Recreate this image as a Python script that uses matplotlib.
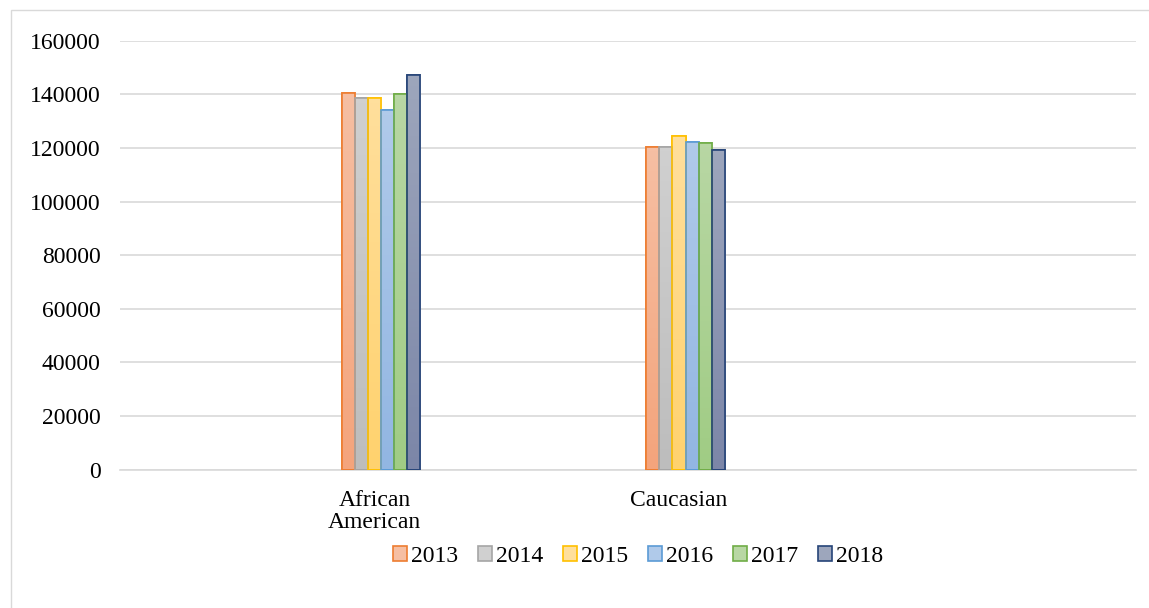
import matplotlib
matplotlib.use("Agg")
import matplotlib.pyplot as plt
import matplotlib.transforms as mtransforms
import numpy as np
from matplotlib.patches import Rectangle
from matplotlib.colors import to_rgb

categories = ["African\nAmerican", "Caucasian"]
years = ["2013", "2014", "2015", "2016", "2017", "2018"]
values_2013 = [140300, 120200]
values_2014 = [138500, 120400]
values_2015 = [138600, 124400]
values_2016 = [134100, 122300]
values_2017 = [140100, 121900]
values_2018 = [147200, 119100]
series = [values_2013, values_2014, values_2015, values_2016, values_2017, values_2018]

edge_colors = ["#ED7D31", "#A5A5A5", "#FFC000", "#5B9BD5", "#70AD47", "#264478"]
fill_top = ["#F6BFA3", "#D0D0D0", "#FFDF9C", "#B0CAEA", "#B8D7A4", "#9DA6BC"]
fill_bot = ["#F4A47C", "#BDBDBD", "#FFD26E", "#92B6E2", "#A0CC84", "#7C86A8"]

plt.rcParams['font.family'] = ['Liberation Serif', 'DejaVu Serif']
FS = 17
fig = plt.figure(figsize=(11.49, 6.08), dpi=100)
fig.patches.append(Rectangle((10.5/1149, -0.1), 1.2, 1.1 - 10/608, transform=fig.transFigure,
                             fill=False, edgecolor="#D9D9D9", linewidth=1.0))

ax = fig.add_axes([120/1149, 1 - 469.5/608, 1016/1149, (469.5 - 40.7)/608])
x = np.arange(len(categories))
n = len(series)
w = 0.0427
for i, vals in enumerate(series):
    pos = x + (i - (n - 1) / 2) * w
    bars = ax.bar(pos, vals, width=w, color=fill_bot[i], edgecolor=edge_colors[i],
                  linewidth=1.2, label=years[i], zorder=3)
    grad = np.linspace(0, 1, 64)[:, None]
    c1 = np.array(to_rgb(fill_bot[i])); c2 = np.array(to_rgb(fill_top[i]))
    img = c1[None, None, :] * (1 - grad[..., None]) + c2[None, None, :] * grad[..., None]
    for b in bars:
        bx, by = b.get_x(), b.get_y()
        bw, bh = b.get_width(), b.get_height()
        im = ax.imshow(img, extent=(bx, bx + bw, by, by + bh), origin="lower",
                       aspect="auto", zorder=3.5)
        im.set_clip_path(b)
        ax.add_patch(Rectangle((bx, by), bw, bh, fill=False, edgecolor=edge_colors[i],
                               linewidth=1.2, zorder=4))

left_units = (381 - 120) / 304.5
right_units = (1136 - 685.5) / 304.5
ax.set_xlim(-left_units, 1 + right_units)
ax.set_ylim(0, 160000)
ax.set_yticks(np.arange(0, 160001, 20000))
ax.set_xticks(x)
ax.set_xticklabels(categories, fontsize=FS, linespacing=1.05)
ax.tick_params(axis='y', length=0, pad=14, labelsize=FS, colors="#000000")
ax.tick_params(axis='x', length=0, pad=15)
shift = mtransforms.ScaledTranslation(-6.5/100, 0, fig.dpi_scale_trans)
for lab in ax.get_xticklabels():
    lab.set_transform(lab.get_transform() + shift)
ax.grid(axis='y', color="#D9D9D9", linewidth=1.2, zorder=0)
ax.set_axisbelow(True)
for s in ["top", "right", "left"]:
    ax.spines[s].set_visible(False)
ax.spines["bottom"].set_color("#D9D9D9")
ax.spines["bottom"].set_linewidth(1.2)

handles = [Rectangle((0, 0), 1, 1, facecolor=fill_top[i], edgecolor=edge_colors[i], linewidth=1.2)
           for i in range(n)]
fig.legend(handles, years, loc="center", bbox_to_anchor=(638/1149, 1 - 556.7/608),
           ncol=n, frameon=False, fontsize=FS, handlelength=0.6, handleheight=0.6,
           handletextpad=0.15, columnspacing=0.85, borderpad=0)

fig.savefig("out.png", dpi=100)
